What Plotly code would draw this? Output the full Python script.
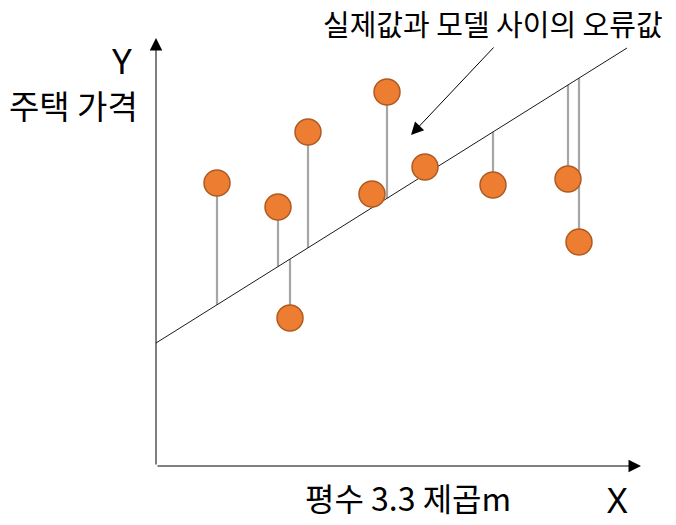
import plotly.graph_objects as go

# data coordinates: origin at the axes' corner
point_x = [61, 122, 152, 134, 231, 216, 269, 337, 412, 423]
point_y = [283, 259, 334, 148, 374, 272, 299, 281, 287, 224]
has_residual = [True, True, True, True, True, False, False, True, True, True]

intercept = 123
slope = 0.6263
line_x = [0, 471]

axis_x_end = 485
axis_y_end = 428

title_text = "실제값과 모델 사이의 오류값"
y_label = "주택 가격"
x_label = "평수 3.3 제곱m"

font = "Noto Sans CJK KR, Noto Sans, sans-serif"
latin_font = "Noto Sans, sans-serif"

fig = go.Figure()

# residual lines
rx, ry = [], []
for x, y, h in zip(point_x, point_y, has_residual):
    if h:
        rx += [x, x, None]
        ry += [y, intercept + slope * x, None]
fig.add_trace(go.Scatter(x=rx, y=ry, mode="lines",
                         line=dict(color="#A6A6A6", width=2.2),
                         hoverinfo="skip", showlegend=False))

# regression line
fig.add_trace(go.Scatter(x=line_x, y=[intercept + slope * v for v in line_x],
                         mode="lines", line=dict(color="#1a1a1a", width=1),
                         hoverinfo="skip", showlegend=False))

# points
fig.add_trace(go.Scatter(x=point_x, y=point_y, mode="markers",
                         marker=dict(size=26, color="#ED7D31",
                                     line=dict(color="#AE5A21", width=1.5)),
                         showlegend=False))

ann = []
# axes with arrowheads
ann.append(dict(x=axis_x_end, y=0, ax=0, ay=0, xref="x", yref="y", axref="x", ayref="y",
                text="", showarrow=True, arrowhead=2, arrowsize=2.5, arrowwidth=1,
                arrowcolor="black", standoff=0))
ann.append(dict(x=0, y=axis_y_end, ax=0, ay=0, xref="x", yref="y", axref="x", ayref="y",
                text="", showarrow=True, arrowhead=2, arrowsize=2.5, arrowwidth=1,
                arrowcolor="black", standoff=0))
# callout arrow
ann.append(dict(x=255, y=331, ax=339, ay=420, xref="x", yref="y", axref="x", ayref="y",
                text="", showarrow=True, arrowhead=2, arrowsize=2.5, arrowwidth=1,
                arrowcolor="black", standoff=0))
# texts
ann.append(dict(x=337, y=443, xref="x", yref="y", text=title_text, showarrow=False,
                font=dict(family=font, size=29, color="black")))
ann.append(dict(x=-34, y=406, xref="x", yref="y", text="Y", showarrow=False,
                font=dict(family=latin_font, size=35, color="black")))
ann.append(dict(x=-83, y=361, xref="x", yref="y", text=y_label, showarrow=False,
                font=dict(family=font, size=33, color="black")))
ann.append(dict(x=252, y=-31, xref="x", yref="y", text=x_label, showarrow=False,
                font=dict(family=font, size=32, color="black")))
ann.append(dict(x=461, y=-33, xref="x", yref="y", text="X", showarrow=False,
                font=dict(family=latin_font, size=35, color="black")))

fig.update_layout(
    width=676, height=525,
    margin=dict(l=0, r=0, t=0, b=0),
    paper_bgcolor="white", plot_bgcolor="white",
    annotations=ann,
    xaxis=dict(range=[-156, 520], visible=False, fixedrange=True),
    yaxis=dict(range=[-59, 466], visible=False, fixedrange=True),
)

fig.write_html("out.html", config={"displayModeBar": False},
               post_script="document.body.style.margin='0';document.body.style.overflow='hidden';")
